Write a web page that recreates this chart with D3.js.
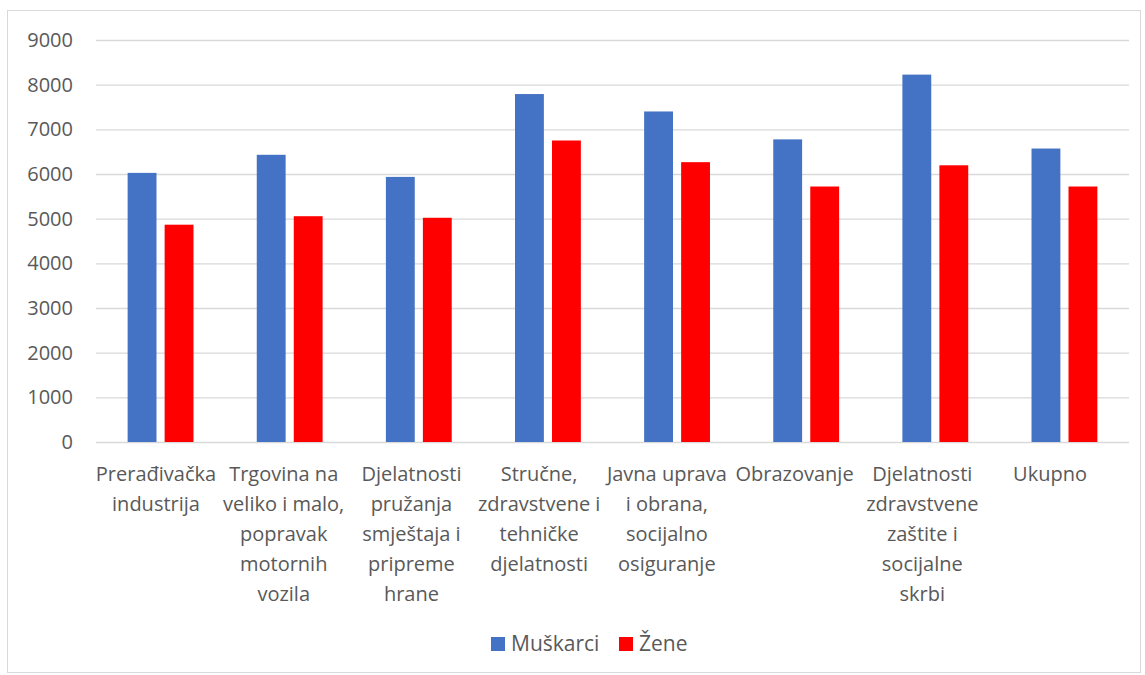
<!DOCTYPE html>
<html>
<head>
<meta charset="utf-8">
<script src="https://cdn.jsdelivr.net/npm/d3@7"></script>
<style>
  body { margin: 0; background: #fff; }
  svg text { font-family: "Open Sans", Lato, sans-serif; fill: #595959; }
</style>
</head>
<body>
<div id="chart"></div>
<script>
// category labels, already split into lines as in the picture
var categories = [
  ["Prerađivačka", "industrija"],
  ["Trgovina na", "veliko i malo,", "popravak", "motornih", "vozila"],
  ["Djelatnosti", "pružanja", "smještaja i", "pripreme", "hrane"],
  ["Stručne,", "zdravstvene i", "tehničke", "djelatnosti"],
  ["Javna uprava", "i obrana,", "socijalno", "osiguranje"],
  ["Obrazovanje"],
  ["Djelatnosti", "zdravstvene", "zaštite i", "socijalne", "skrbi"],
  ["Ukupno"]
];
var seriesNames = ["Muškarci", "Žene"];
var muskarci = [6025, 6430, 5935, 7790, 7400, 6775, 8225, 6570];
var zene = [4865, 5055, 5020, 6750, 6265, 5720, 6195, 5720];
var yTicks = [0, 1000, 2000, 3000, 4000, 5000, 6000, 7000, 8000, 9000];
var colors = ["#4472C4", "#FF0000"];

var W = 1145, H = 675;
var plot = { left: 96, right: 1129, top: 40, bottom: 442 };
var fontSize = 20;

var svg = d3.select("#chart").append("svg")
  .attr("width", W)
  .attr("height", H);

// chart frame
svg.append("rect")
  .attr("x", 7.5).attr("y", 10.5)
  .attr("width", 1133).attr("height", 662)
  .attr("fill", "none")
  .attr("stroke", "#d9d9d9")
  .attr("stroke-width", 1);

var keys = categories.map(function (d, i) { return i; });

var x0 = d3.scaleBand().domain(keys)
  .range([plot.left, plot.right])
  .paddingInner(0.49).paddingOuter(0.245);

var x1 = d3.scaleBand().domain(seriesNames)
  .range([0, x0.bandwidth()])
  .paddingInner(0.22);

// the wrapped labels sit a bit left of the bar groups, spaced slightly tighter
var xLabel = d3.scalePoint().domain(keys).range([156, 1050]);

var y = d3.scaleLinear().domain([0, 9000]).range([plot.bottom, plot.top]);

// gridlines + y labels
var yAxis = d3.axisLeft(y).tickValues(yTicks)
  .tickSize(-(plot.right - plot.left))
  .tickPadding(23)
  .tickFormat(d3.format("d"));

var yg = svg.append("g")
  .attr("transform", "translate(" + plot.left + ",0)")
  .call(yAxis);
yg.select(".domain").remove();
yg.selectAll(".tick line").attr("stroke", "#d9d9d9").attr("stroke-width", 1.4);
yg.selectAll(".tick text")
  .attr("font-size", fontSize)
  .attr("fill", "#595959")
  .style("font-family", "'Open Sans', sans-serif");

// bars
var rows = keys.map(function (i) {
  return [
    { s: seriesNames[0], v: muskarci[i], c: colors[0] },
    { s: seriesNames[1], v: zene[i], c: colors[1] }
  ];
});

var groups = svg.append("g").selectAll("g")
  .data(rows)
  .enter().append("g")
  .attr("transform", function (d, i) { return "translate(" + x0(i) + ",0)"; });

groups.selectAll("rect")
  .data(function (d) { return d; })
  .enter().append("rect")
  .attr("x", function (d) { return x1(d.s); })
  .attr("width", x1.bandwidth())
  .attr("y", function (d) { return y(d.v); })
  .attr("height", function (d) { return y(0) - y(d.v); })
  .attr("fill", function (d) { return d.c; });

// category labels
var xg = svg.append("g");
xg.selectAll("text")
  .data(categories)
  .enter().append("text")
  .attr("text-anchor", "middle")
  .attr("font-size", fontSize)
  .attr("x", function (d, i) { return xLabel(i); })
  .attr("y", 481)
  .each(function (lines) {
    var t = d3.select(this);
    var cx = t.attr("x");
    lines.forEach(function (line, j) {
      t.append("tspan").attr("x", cx).attr("dy", j ? 30 : 0).text(line);
    });
  });

// legend
var legend = svg.append("g").attr("transform", "translate(491,637)");
var legendX = [0, 128];
seriesNames.forEach(function (name, i) {
  var g = legend.append("g").attr("transform", "translate(" + legendX[i] + ",0)");
  g.append("rect").attr("width", 14).attr("height", 14).attr("fill", colors[i]);
  g.append("text").attr("x", 20).attr("y", 14).attr("font-size", 21).text(name);
});
</script>
</body>
</html>
